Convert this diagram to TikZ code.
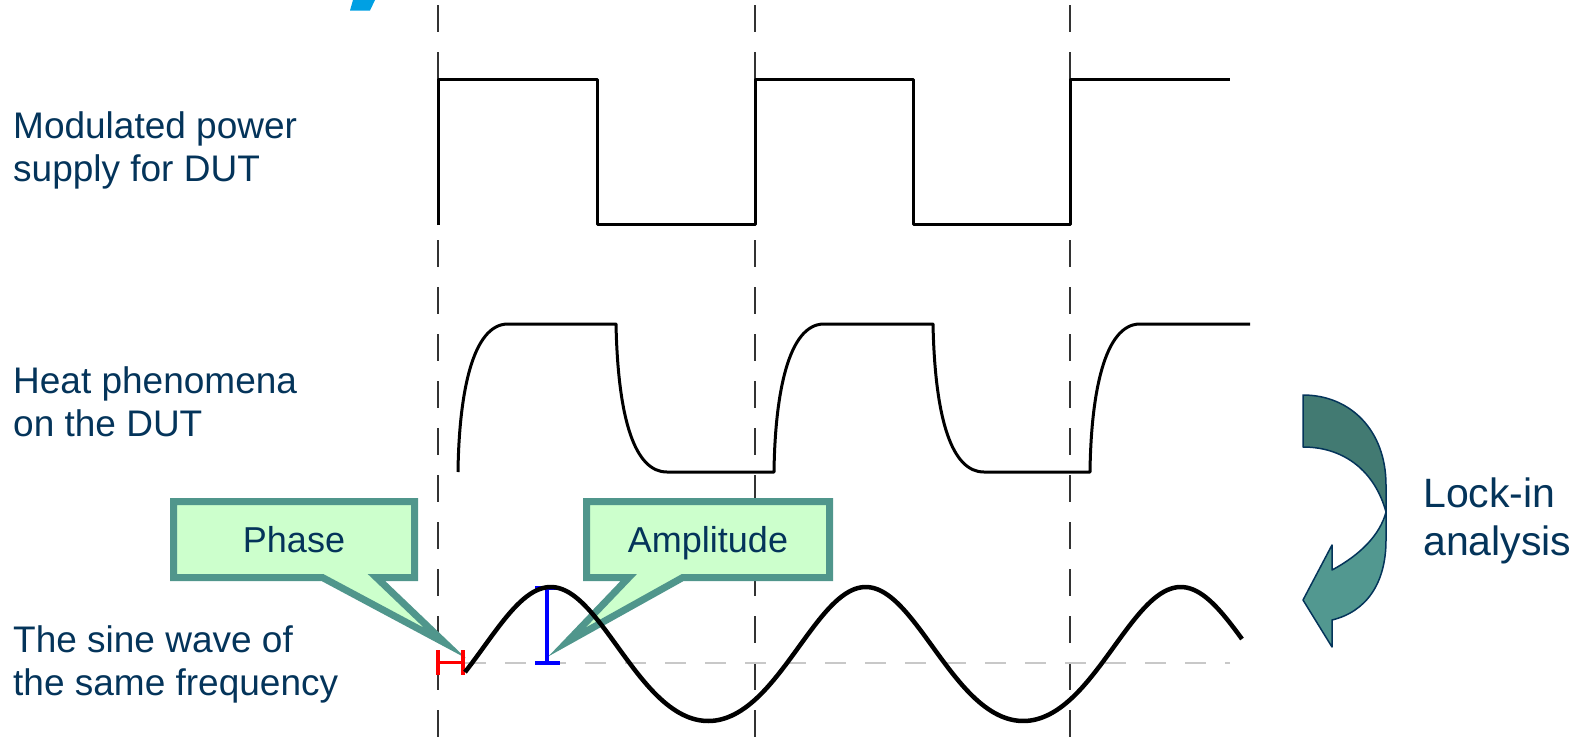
\documentclass[tikz,border=0pt]{standalone}
\usepackage{fontspec}
\setmainfont{Liberation Sans}
\usetikzlibrary{shapes.callouts}
\definecolor{navytext}{RGB}{4,52,90}
\definecolor{calloutedge}{RGB}{80,150,140}
\definecolor{calloutfill}{RGB}{204,255,204}
\definecolor{arrowdark}{RGB}{66,122,114}
\definecolor{arrowlight}{RGB}{82,152,144}
\definecolor{guidegray}{RGB}{51,51,51}
\definecolor{basegray}{RGB}{200,200,200}
\definecolor{logoblue}{RGB}{0,160,227}
\begin{document}
\begin{tikzpicture}[x=1pt,y=-1pt,
  lbl/.style={font=\fontsize{37}{43}\selectfont, text=navytext, inner sep=0pt, align=left, anchor=base west},
  biglbl/.style={font=\fontsize{41}{48}\selectfont, text=navytext, inner sep=0pt, align=left, anchor=base west},
  guide/.style={draw=guidegray, line width=2pt, dash pattern=on 27pt off 20pt},
  wave/.style={draw=black, line width=3pt, line join=round},
  sinewave/.style={draw=black, line width=4.5pt, line join=round},
  callbox/.style={rectangle callout, draw=calloutedge, fill=calloutfill, line width=7pt,
    callout pointer width=54pt, text=navytext, font=\fontsize{36}{42}\selectfont,
    text height=26pt, text depth=0pt, minimum height=76pt, inner sep=0pt},
  arrowedge/.style={draw=navytext, line width=1.5pt, line join=round}
]
\useasboundingbox (0,0) rectangle (1580,739);

% logo fragment
\fill[logoblue] (353,0) -- (375,0) -- (370,10.5) -- (350,10.5) -- cycle;

% vertical dashed guides
\draw[guide] (438,5) -- (438,739);
\draw[guide] (755,5) -- (755,739);
\draw[guide] (1070,5) -- (1070,739);

% square wave
\draw[wave] (438,225) -- (438,79) -- (597,79) -- (597,224) -- (755,224) -- (755,79)
  -- (913,79) -- (913,224) -- (1070,224) -- (1070,79) -- (1230,79);

% heat curve
\draw[wave] (458,472) .. controls (459,395) and (472,324) .. (508,324) -- (616,324)
  .. controls (618,420) and (635,472) .. (667,472) -- (774,472)
  .. controls (775,395) and (788,324) .. (824,324) -- (933,324)
  .. controls (935,420) and (952,472) .. (984,472) -- (1090,472)
  .. controls (1091,395) and (1104,324) .. (1140,324) -- (1250,324);

% baseline
\draw[basegray, line width=2pt, dash pattern=on 21pt off 19pt] (465,663) -- (1230,663);

% labels (base anchor = baseline of the last line)
\node[lbl] (mod) at (13,181) {Modulated power\\supply for DUT};
\node[lbl] (heat) at (13,436) {Heat phenomena\\on the DUT};
\node[lbl] (sine) at (13,695) {The sine wave of\\the same frequency};
\node[biglbl] (lockin) at (1423,555) {Lock-in\\analysis};

% callouts
\node[callbox, minimum width=241pt, callout absolute pointer={(445,643)}] (phase) at (294,539.5) {Phase};
\node[callbox, minimum width=243pt, callout absolute pointer={(567,642)}] (ampl) at (708,539.5) {Amplitude};

% phase marker
\draw[red, line width=4pt] (438,650) -- (438,675) (463,650) -- (463,675);
\draw[red, line width=3pt] (438,662) -- (463,662);

% amplitude marker
\draw[blue, line width=4pt] (547,588) -- (547,663) (535,588) -- (560,588) (535,663) -- (560,663);

% sine wave
\draw[sinewave] plot[domain=465:1242, samples=240]
  (\x, {663 - 67*sin(1.142857*(\x-472)) - 9*sin(1.142857*(\x-472))*sin(1.142857*(\x-472))});

% curved arrow
\filldraw[fill=arrowlight, arrowedge] (1386,512) -- (1386,540)
  .. controls (1386,585) and (1365,612) .. (1332,620)
  -- (1332,647) -- (1303,600) -- (1332,545) -- (1332,570)
  .. controls (1360,555) and (1380,535) .. (1386,512) -- cycle;
\filldraw[fill=arrowdark, arrowedge] (1303,395) .. controls (1350,395) and (1386,430) .. (1386,485)
  -- (1386,512) .. controls (1375,472) and (1345,447) .. (1303,447) -- cycle;
\end{tikzpicture}
\end{document}
